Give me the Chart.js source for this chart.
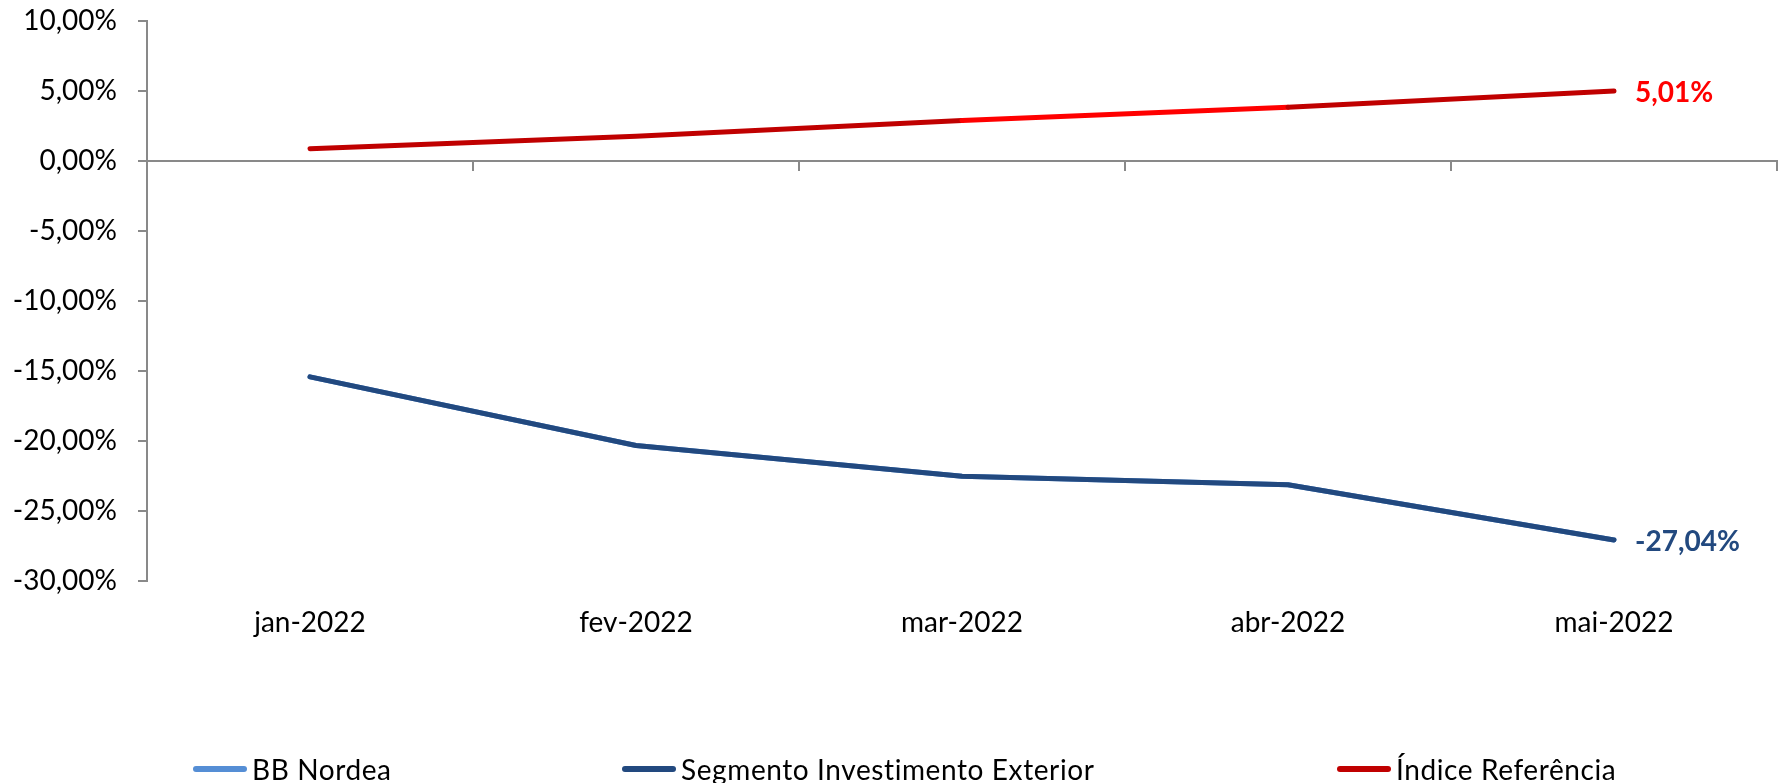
<!DOCTYPE html>
<html>
<head>
<meta charset="utf-8">
<script src="https://cdn.jsdelivr.net/npm/chart.js@4/dist/chart.umd.min.js"></script>
<style>
    body { margin: 0; background: #fff; }
    #wrap { position: relative; width: 1779px; height: 783px; }
    #legend { position: absolute; left: 0; top: 752px; width: 1779px; height: 34px; font-family: Lato, sans-serif; font-size: 28px; line-height: 34px; color: #000; white-space: nowrap; }
    .item { position: absolute; top: 0; display: flex; align-items: center; letter-spacing: 0.6px; }
    .swatch { width: 54px; height: 6px; border-radius: 3px; margin-right: 5px; }
</style>
</head>
<body>
<div id="wrap">
    <canvas id="chart" width="1779" height="783"></canvas>
    <div id="legend"></div>
</div>
<script>
const months = ['jan-2022', 'fev-2022', 'mar-2022', 'abr-2022', 'mai-2022'];
const bbNordea = [-15.4, -20.3, -22.5, -23.1, -27.04];
const segmento = [-15.4, -20.3, -22.5, -23.1, -27.04];
const indice = [0.88, 1.77, 2.9, 3.85, 5.01];

const seriesNames = ['BB Nordea', 'Segmento Investimento Exterior', 'Índice Referência'];
const seriesColors = ['#558ED5', '#22497F', '#C00000'];

const axisGray = '#898989';
const font = { family: 'Lato, sans-serif', size: 28 };
const legendLeft = [193, 622, 1337];

function pct(v) {
    return v.toFixed(2).replace('.', ',') + '%';
}

// value label right of the last point
const endLabels = {
    id: 'endLabels',
    afterDatasetsDraw(chart) {
        const ctx = chart.ctx;
        [1, 2].forEach(i => {
            const ds = chart.data.datasets[i];
            const pt = chart.getDatasetMeta(i).data[ds.data.length - 1];
            ctx.save();
            ctx.font = 'bold 28px Lato, sans-serif';
            ctx.fillStyle = ds.labelColor;
            ctx.textBaseline = 'middle';
            ctx.fillText(pct(ds.data[ds.data.length - 1]), pt.x + 21, pt.y + 2);
            ctx.restore();
        });
    }
};

const chart = new Chart(document.getElementById('chart').getContext('2d'), {
    type: 'line',
    data: {
        labels: months,
        datasets: [
            { label: seriesNames[0], data: bbNordea, borderColor: seriesColors[0], order: 3 },
            { label: seriesNames[1], data: segmento, borderColor: seriesColors[1], labelColor: '#22497F', order: 2 },
            {
                label: seriesNames[2], data: indice, borderColor: seriesColors[2], labelColor: '#FF0000', order: 1,
                segment: { borderColor: c => c.p0DataIndex === 2 ? '#FF0000' : '#C00000' }
            }
        ]
    },
    options: {
        responsive: false,
        animation: false,
        layout: { padding: { top: 0, right: 2, bottom: 126, left: 0 } },
        elements: {
            line: { borderWidth: 5, borderCapStyle: 'round', borderJoinStyle: 'round', tension: 0 },
            point: { radius: 0 }
        },
        plugins: { legend: { display: false }, tooltip: { enabled: false } },
        scales: {
            x: {
                offset: true,
                grid: { display: false },
                border: { display: false },
                ticks: { color: '#000', font: font, padding: 17, maxRotation: 0 }
            },
            x2: {
                type: 'category',
                position: { y: 0 },
                offset: true,
                afterFit: scale => { scale.height = 0; },
                grid: { offset: true, drawOnChartArea: false, tickLength: 9, color: axisGray, lineWidth: 2 },
                border: { color: axisGray, width: 2 },
                ticks: { display: false }
            },
            y: {
                min: -30,
                max: 10,
                afterFit: scale => {
                    scale.width = 147;
                    scale.paddingTop = 21;
                    scale.paddingBottom = 17;
                },
                grid: { drawOnChartArea: false, tickColor: axisGray, tickLength: 9, lineWidth: 2 },
                border: { color: axisGray, width: 2 },
                ticks: { stepSize: 5, color: '#000', font: font, padding: 21, callback: v => pct(v) }
            }
        }
    },
    plugins: [endLabels]
});

const legend = document.getElementById('legend');
chart.data.datasets.forEach((ds, i) => {
    const item = document.createElement('div');
    item.className = 'item';
    item.style.left = legendLeft[i] + 'px';
    const sw = document.createElement('span');
    sw.className = 'swatch';
    sw.style.background = ds.borderColor;
    const txt = document.createElement('span');
    txt.textContent = ds.label;
    item.appendChild(sw);
    item.appendChild(txt);
    legend.appendChild(item);
});
</script>
</body>
</html>
